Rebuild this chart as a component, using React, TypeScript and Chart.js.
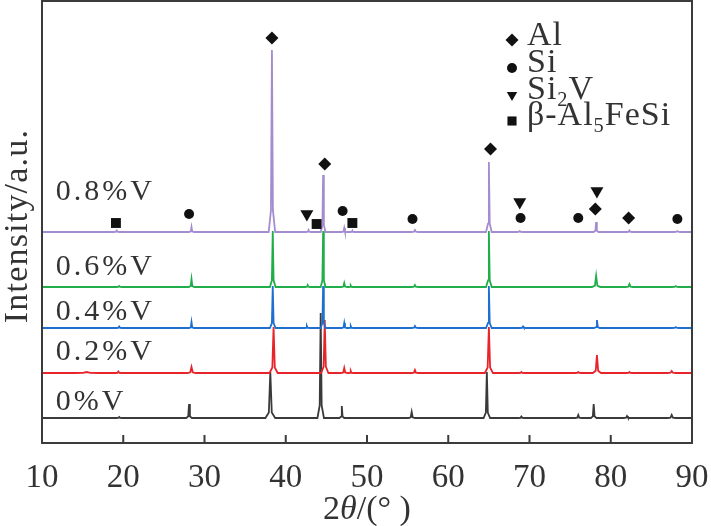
import { useEffect, useRef } from "react";
import { Chart, registerables, type Plugin } from "chart.js";

Chart.register(...registerables);

const xMin = 10;
const xMax = 90;
const yMax = 442;

const sampleNames = ["0%V", "0.2%V", "0.4%V", "0.6%V", "0.8%V"];
const sampleColors = ["#3a3a3a", "#e8242b", "#1f6fd1", "#22ad4b", "#a58ccf"];
// vertical offset of each pattern in the stack
const baselines = [25, 70, 115, 156, 211];
// where the sample name sits (same units as the offsets)
const labelLevels = [33, 83, 123, 168, 243];
const labelAt = 11.7;

// peaks: [2θ, height above baseline, half width at the foot]
const peaks0: [number, number, number][] = [
  [19.5, 1, 0.4], [28.1, 14, 0.35], [38.1, 46, 0.6], [44.3, 105, 0.4],
  [46.9, 12, 0.3], [55.5, 6, 0.4], [64.75, 46, 0.4], [69.0, 1.5, 0.4],
  [76.0, 3, 0.4], [77.9, 14, 0.35], [82.0, 2, 0.4], [87.5, 3, 0.5],
];
const peaks02: [number, number, number][] = [
  [15.5, 1, 1.5], [19.4, 1.5, 0.4], [28.4, 6, 0.5], [38.5, 46, 0.5],
  [44.8, 53, 0.45], [47.2, 5, 0.4], [48.0, 2, 0.3], [55.9, 3, 0.4],
  [65.0, 46, 0.5], [69.0, 1, 0.4], [76.0, 1, 0.4], [78.3, 18, 0.5],
  [82.3, 1, 0.4], [87.5, 2, 0.5],
];
const peaks04: [number, number, number][] = [
  [19.5, 1.5, 0.4], [28.4, 6, 0.3], [38.4, 42, 0.35], [42.6, 2, 0.3],
  [44.6, 42, 0.3], [47.2, 5, 0.3], [48.0, 2, 0.3], [55.9, 2, 0.4],
  [65.0, 42, 0.35], [69.2, 1.5, 0.4], [78.3, 8, 0.35], [88.0, 1, 0.5],
];
const peaks06: [number, number, number][] = [
  [19.5, 1, 0.4], [28.4, 8, 0.35], [38.4, 56, 0.35], [42.7, 2, 0.3],
  [44.6, 56, 0.3], [47.2, 4, 0.35], [48.0, 1.5, 0.3], [55.9, 2, 0.4],
  [65.0, 56, 0.35], [78.2, 11, 0.5], [82.3, 3, 0.45], [88.0, 1, 0.5],
];
const peaks08: [number, number, number][] = [
  [19.2, 1.5, 0.4], [28.4, 5, 0.3], [38.3, 182, 0.4], [42.8, 2, 0.3],
  [44.6, 57, 0.3], [47.2, 4, 0.3], [48.2, 1.5, 0.3], [55.9, 2, 0.4],
  [65.0, 70, 0.35], [68.8, 1, 0.4], [78.2, 10, 0.3], [82.3, 1.5, 0.4],
  [88.2, 1, 0.5],
];
const samplePeaks = [peaks0, peaks02, peaks04, peaks06, peaks08];

// phase markers [2θ, level]
const alMarks: [number, number][] = [[38.3, 405], [44.8, 279], [65.2, 294], [78.1, 234], [82.2, 225]];
const siMarks: [number, number][] = [[28.1, 229], [47.0, 232], [55.6, 224], [68.9, 225], [76.0, 225], [88.2, 224]];
const si2vMarks: [number, number][] = [[42.6, 229], [68.8, 241], [78.3, 252]];
const betaMarks: [number, number][] = [[19.1, 220], [43.8, 219], [48.2, 220]];

const xTicks = [10, 20, 30, 40, 50, 60, 70, 80, 90];

const serif = "'Liberation Serif', 'DejaVu Serif', serif";
const ink = "#333";

const profile = (peaks: [number, number, number][], base: number) => {
  const pts = [{ x: xMin, y: base }];
  for (const [c, h, w] of [...peaks].sort((a, b) => a[0] - b[0])) {
    pts.push({ x: c - w, y: base });
    pts.push({ x: c - w * 0.3, y: base + h * 0.12 });
    pts.push({ x: c, y: base + h });
    pts.push({ x: c + w * 0.3, y: base + h * 0.12 });
    pts.push({ x: c + w, y: base });
  }
  pts.push({ x: xMax, y: base });
  return pts;
};

const toPoints = (marks: [number, number][]) => marks.map(([x, y]) => ({ x, y }));

type Shape = "diamond" | "circle" | "down" | "square";

const drawShape = (ctx: CanvasRenderingContext2D, shape: Shape, x: number, y: number, r: number) => {
  ctx.beginPath();
  if (shape === "diamond") {
    ctx.moveTo(x - r, y);
    ctx.lineTo(x, y - r);
    ctx.lineTo(x + r, y);
    ctx.lineTo(x, y + r);
  } else if (shape === "circle") {
    ctx.arc(x, y, r, 0, Math.PI * 2);
  } else if (shape === "down") {
    ctx.moveTo(x - r * 0.87, y - r * 0.5);
    ctx.lineTo(x + r * 0.87, y - r * 0.5);
    ctx.lineTo(x, y + r);
  } else {
    ctx.rect(x - r * 0.7, y - r * 0.7, r * 1.4, r * 1.4);
  }
  ctx.closePath();
  ctx.fill();
};

// text pieces: [text, subscript?, italic?]
const drawRich = (ctx: CanvasRenderingContext2D, parts: [string, boolean, boolean][], x: number, y: number, size: number) => {
  let cx = x;
  for (const [t, sub, it] of parts) {
    const s = sub ? size * 0.6 : size;
    ctx.font = `${it ? "italic " : ""}${s}px ${serif}`;
    ctx.fillText(t, cx, sub ? y + size * 0.22 : y);
    cx += ctx.measureText(t).width;
  }
};

// [shape, radius, marker y, text baseline, text]
const legendItems: [Shape, number, number, number, [string, boolean, boolean][]][] = [
  ["diamond", 6.5, 40, 45, [["Al", false, false]]],
  ["circle", 5, 68, 72, [["Si", false, false]]],
  ["down", 6, 95, 99, [["Si", false, false], ["2", true, false], ["V", false, false]]],
  ["square", 6.5, 121, 125, [["β-Al", false, false], ["5", true, false], ["FeSi", false, false]]],
];

const decor: Plugin<"line"> = {
  id: "decor",
  afterDatasetsDraw(chart) {
    const { ctx, chartArea: a } = chart;
    const xs = chart.scales.x;
    ctx.save();
    ctx.strokeStyle = "#3b3b3b";
    ctx.lineWidth = 2;
    ctx.strokeRect(a.left, a.top, a.right - a.left, a.bottom - a.top);
    ctx.beginPath();
    for (const t of xTicks) {
      const px = xs.getPixelForValue(t);
      ctx.moveTo(px, a.bottom);
      ctx.lineTo(px, a.bottom - 8);
    }
    ctx.stroke();
    ctx.restore();
  },
  afterDraw(chart) {
    const { ctx, chartArea: a } = chart;
    const xs = chart.scales.x;
    const ys = chart.scales.y;
    ctx.save();
    ctx.fillStyle = ink;
    ctx.textBaseline = "alphabetic";
    ctx.textAlign = "left";

    // sample names
    ctx.font = `30px ${serif}`;
    (ctx as any).letterSpacing = "3px";
    sampleNames.forEach((n, i) => {
      ctx.fillText(n, xs.getPixelForValue(labelAt), ys.getPixelForValue(labelLevels[i]));
    });

    // legend
    (ctx as any).letterSpacing = "1px";
    legendItems.forEach(([shape, r, my, ty, parts]) => {
      ctx.fillStyle = "#111";
      drawShape(ctx, shape, 512, my, r);
      ctx.fillStyle = ink;
      drawRich(ctx, parts, 527, ty, 34);
    });

    // axis titles
    (ctx as any).letterSpacing = "0px";
    const xt: [string, boolean, boolean][] = [["2", false, false], ["θ", false, true], ["/(° )", false, false]];
    let w = 0;
    for (const [t, , it] of xt) {
      ctx.font = `${it ? "italic " : ""}34px ${serif}`;
      w += ctx.measureText(t).width;
    }
    drawRich(ctx, xt, (a.left + a.right) / 2 - w / 2, 519, 34);

    ctx.translate(27, 226);
    ctx.rotate(-Math.PI / 2);
    ctx.textAlign = "center";
    (ctx as any).letterSpacing = "1.2px";
    ctx.font = `34px ${serif}`;
    ctx.fillText("Intensity/a.u.", 0, 0);
    ctx.restore();
  },
};

export default function App() {
  const canvasRef = useRef<HTMLCanvasElement | null>(null);

  useEffect(() => {
    document.body.style.margin = "0";
    if (!canvasRef.current) return;

    const markerSet = (data: [number, number][], pointStyle: any, radius: number, rotation = 0) => ({
      type: "scatter" as const,
      data: toPoints(data),
      showLine: false,
      pointStyle,
      pointRadius: radius,
      pointRotation: rotation,
      pointBackgroundColor: "#111",
      pointBorderWidth: 0,
      clip: false as const,
    });

    const patterns = sampleNames
      .map((name, i) => ({
        type: "line" as const,
        label: name,
        data: profile(samplePeaks[i], baselines[i]),
        borderColor: sampleColors[i],
        borderWidth: 1.8,
        pointRadius: 0,
        tension: 0,
      }))
      .reverse();

    const chart = new Chart(canvasRef.current, {
      type: "line",
      data: {
        datasets: [
          markerSet(alMarks, "rectRot", 6.5),
          markerSet(siMarks, "circle", 5),
          markerSet(si2vMarks, "triangle", 7.5, 180),
          markerSet(betaMarks, "rect", 7),
          ...patterns,
        ] as any,
      },
      options: {
        animation: false,
        responsive: true,
        maintainAspectRatio: false,
        layout: { autoPadding: false, padding: { left: 42, right: 19, top: 1, bottom: 0 } },
        plugins: { legend: { display: false }, tooltip: { enabled: false } },
        scales: {
          x: {
            type: "linear",
            min: xMin,
            max: xMax,
            grid: { display: false },
            border: { display: false },
            afterFit: (s) => {
              s.height = 83;
              s.paddingLeft = 0;
              s.paddingRight = 0;
              s.paddingTop = 0;
              s.paddingBottom = 0;
            },
            afterBuildTicks: (s) => {
              s.ticks = xTicks.map((v) => ({ value: v }));
            },
            ticks: {
              padding: 8,
              color: ink,
              font: { family: serif, size: 33 },
              maxRotation: 0,
              autoSkip: false,
            },
          },
          y: { display: false, min: 0, max: yMax },
        },
      },
      plugins: [decor],
    });

    return () => chart.destroy();
  }, []);

  return (
    <div style={{ width: 711, height: 526, position: "relative", background: "#fff" }}>
      <canvas ref={canvasRef} />
    </div>
  );
}
